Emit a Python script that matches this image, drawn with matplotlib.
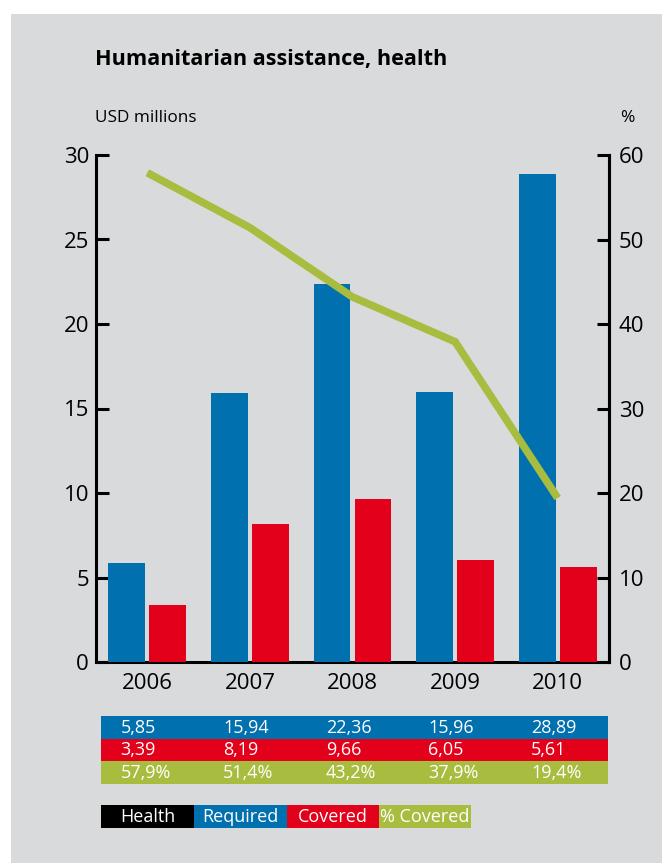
import matplotlib
matplotlib.use("Agg")
import matplotlib.pyplot as plt
from matplotlib.patches import Rectangle
from matplotlib.transforms import blended_transform_factory

years = ["2006", "2007", "2008", "2009", "2010"]
required = [5.85, 15.94, 22.36, 15.96, 28.89]
covered = [3.39, 8.19, 9.66, 6.05, 5.61]
pct_covered = [57.9, 51.4, 43.2, 37.9, 19.4]
left_ticks = [0, 5, 10, 15, 20, 25, 30]
right_ticks = [0, 10, 20, 30, 40, 50, 60]
legend_labels = ["Health", "Required", "Covered", "% Covered"]

BLUE = "#0070AF"
RED = "#E2001A"
GREEN = "#A8BD40"
GREY = "#D9DADC"
BLACK = "#000000"

FONT = ["Open Sans", "DejaVu Sans"]
NARROW = ["Open Sans", "DejaVu Sans"]

W, H = 662, 863
fig = plt.figure(figsize=(W / 100, H / 100), dpi=100, facecolor="white")

def fx(px):
    return px / W

def fy(py):
    return 1 - py / H

# grey panel
fig.patches.append(Rectangle((fx(11), 0), 1 - fx(11), fy(14), transform=fig.transFigure,
                             facecolor=GREY, edgecolor="none", zorder=-5))

ax = fig.add_axes([fx(96), fy(662), fx(609) - fx(96), fy(155) - fy(662)])
ax.set_zorder(2)
ax.set_facecolor("none")
x = list(range(len(years)))
bw = 0.36
ax.bar([i - 0.2 for i in x], required, width=bw, color=BLUE, zorder=3)
ax.bar([i + 0.2 for i in x], covered, width=bw, color=RED, zorder=3)
ax.set_xlim(-0.5, 4.5)
ax.set_ylim(0, 30)
ax.set_yticks(left_ticks)
ax.set_yticklabels([str(t) for t in left_ticks], family=FONT, fontsize=16)
ax.set_xticks(x)
ax.set_xticklabels(years, family=FONT, fontsize=16)
ax.tick_params(axis="x", length=0, pad=8)
ax.tick_params(axis="y", direction="in", length=9.5, width=2.2, pad=5, color=BLACK)
for s in ["left", "right", "bottom"]:
    ax.spines[s].set_linewidth(2.2)
    ax.spines[s].set_color(BLACK)
ax.spines["top"].set_visible(False)

ax2 = ax.twinx()
ax2.set_zorder(3)
ax2.set_facecolor("none")
ax2.set_ylim(0, 60)
ax2.set_yticks(right_ticks)
ax2.set_yticklabels([str(t) for t in right_ticks], family=FONT, fontsize=16)
ax2.tick_params(axis="y", direction="in", length=9, width=2.2, pad=7, color=BLACK)
for s in ["top", "left", "bottom"]:
    ax2.spines[s].set_visible(False)
ax2.spines["right"].set_linewidth(2.2)
ax2.plot(x, pct_covered, color=GREEN, linewidth=5.5, solid_capstyle="butt",
         solid_joinstyle="miter", zorder=4)

# titles
fig.text(fx(95), fy(59), "Humanitarian assistance, health", family=FONT, fontsize=15.6,
         fontweight="bold", va="center", ha="left")
fig.text(fx(95), fy(118), "USD millions", family=FONT, fontsize=12.3, va="center", ha="left")
fig.text(fx(627), fy(118), "%", family=FONT, fontsize=12.5, va="center", ha="center")

# value table below the chart
rows = [
    (BLUE, [f"{v:.2f}".replace(".", ",") for v in required]),
    (RED, [f"{v:.2f}".replace(".", ",") for v in covered]),
    (GREEN, [f"{v:.1f}%".replace(".", ",") for v in pct_covered]),
]
row_edges = [716, 739, 761, 784]
blend = blended_transform_factory(ax.transData, fig.transFigure)
for r, (col, labels) in enumerate(rows):
    top, bot = row_edges[r], row_edges[r + 1]
    fig.patches.append(Rectangle((fx(101), fy(bot)), fx(608) - fx(101), fy(top) - fy(bot),
                                 transform=fig.transFigure, facecolor=col,
                                 edgecolor="none", zorder=1))
    for i, lab in enumerate(labels):
        fig.text(i - 0.26, fy((top + bot) / 2), lab, transform=blend, color="white",
                 family=NARROW, fontsize=13, va="center", ha="left")

# legend strip
legend_colors = [BLACK, BLUE, RED, GREEN]
edges = [101, 194, 287, 379, 471]
for k, (lab, col) in enumerate(zip(legend_labels, legend_colors)):
    l, r = edges[k], edges[k + 1]
    fig.patches.append(Rectangle((fx(l), fy(828)), fx(r) - fx(l), fy(805) - fy(828),
                                 transform=fig.transFigure, facecolor=col,
                                 edgecolor="none", zorder=1))
    fig.text(fx((l + r) / 2), fy(816.5), lab, color="white", family=NARROW,
             fontsize=13, va="center", ha="center")

fig.savefig("out.png", dpi=100, facecolor="white")
